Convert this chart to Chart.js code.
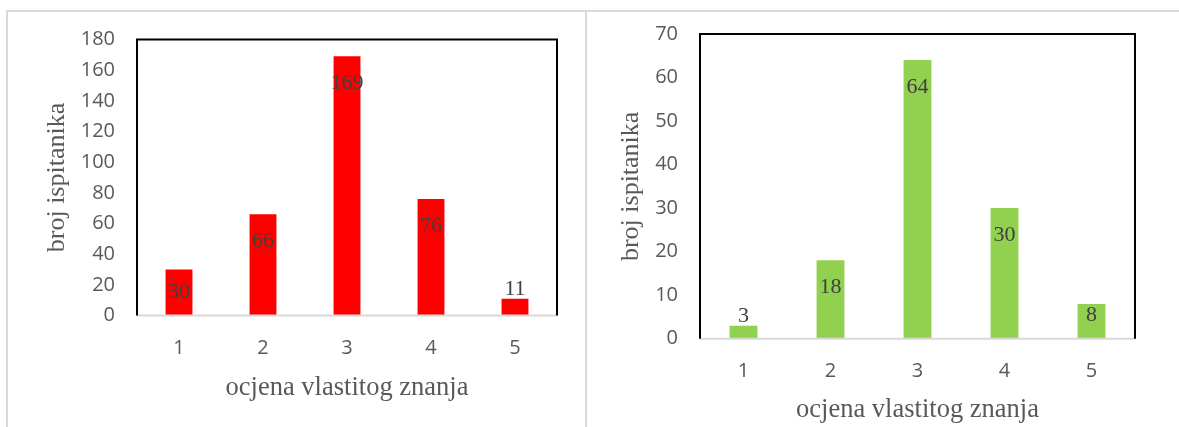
<!DOCTYPE html>
<html>
<head>
<meta charset="utf-8">
<script src="https://cdn.jsdelivr.net/npm/chart.js@4/dist/chart.umd.min.js"></script>
<style>
  html, body { margin: 0; padding: 0; background: #ffffff; }
  body { width: 1179px; height: 427px; position: relative; overflow: hidden; }
  canvas { position: absolute; top: 0; }
  .ln { position: absolute; background: #d9d9d9; }
</style>
</head>
<body>
<div class="ln" style="left:6px; top:10px; width:1173px; height:2px;"></div>
<div class="ln" style="left:6px; top:10px; width:2px; height:417px;"></div>
<div class="ln" style="left:585px; top:10px; width:2px; height:417px;"></div>
<canvas id="c1" width="585" height="427" style="left:0px;"></canvas>
<canvas id="c2" width="592" height="427" style="left:587px;"></canvas>
<script>
// ---- data ----
const categories = ['1', '2', '3', '4', '5'];
const leftValues = [30, 66, 169, 76, 11];
const rightValues = [3, 18, 64, 30, 8];
const leftMax = 180, leftStep = 20;
const rightMax = 70, rightStep = 10;
const xTitle = 'ocjena vlastitog znanja';
const yTitle = 'broj ispitanika';

const tickFont = { family: "'Open Sans', 'Liberation Sans', sans-serif", size: 20 };
const serifFamily = "'Liberation Serif', 'DejaVu Serif', serif";

const frame = {
  id: 'frame',
  afterDatasetsDraw(chart) {
    const a = chart.chartArea, ctx = chart.ctx;
    ctx.save();
    ctx.lineWidth = 2;
    ctx.strokeStyle = '#d9d9d9';
    ctx.beginPath();
    ctx.moveTo(a.left, a.bottom);
    ctx.lineTo(a.right, a.bottom);
    ctx.stroke();
    ctx.strokeStyle = '#000000';
    ctx.beginPath();
    ctx.moveTo(a.left, a.bottom);
    ctx.lineTo(a.left, a.top);
    ctx.lineTo(a.right, a.top);
    ctx.lineTo(a.right, a.bottom);
    ctx.stroke();
    ctx.restore();
  }
};

const labels = {
  id: 'valueLabels',
  afterDraw(chart) {
    const ctx = chart.ctx;
    const meta = chart.getDatasetMeta(0);
    const data = chart.data.datasets[0].data;
    ctx.save();
    ctx.font = '22px ' + serifFamily;
    ctx.fillStyle = '#404040';
    ctx.textAlign = 'center';
    ctx.textBaseline = 'middle';
    meta.data.forEach((bar, i) => {
      const top = bar.y, base = bar.base;
      const h = base - top;
      let y;
      if (h < 25) y = top - 9;
      else y = Math.min(top + 27, base - 23);
      ctx.fillText(String(data[i]), bar.x, y);
    });
    ctx.restore();
  }
};

function makeChart(id, values, color, maxV, step, geo) {
  return new Chart(document.getElementById(id), {
    type: 'bar',
    data: {
      labels: categories,
      datasets: [{
        data: values,
        backgroundColor: color,
        borderWidth: 0,
        categoryPercentage: 1,
        barPercentage: 0.32
      }]
    },
    options: {
      responsive: false,
      animation: false,
      layout: { padding: { left: 0, top: geo.top, right: geo.right, bottom: 0 } },
      plugins: { legend: { display: false }, tooltip: { enabled: false } },
      scales: {
        x: {
          grid: { display: false, drawTicks: false },
          border: { display: false },
          ticks: { color: '#595959', font: tickFont, padding: geo.xTickPad },
          title: {
            display: true, text: xTitle, color: '#595959',
            font: { family: serifFamily, size: 26.5 },
            padding: { top: 0, bottom: geo.xTitlePad }
          },
          afterFit(s) { s.height = geo.xHeight; }
        },
        y: {
          min: 0, max: maxV,
          grid: { display: false, drawTicks: false },
          border: { display: false },
          ticks: { stepSize: step, color: '#595959', font: tickFont, padding: 22 },
          title: {
            display: true, text: yTitle, color: '#595959',
            font: { family: serifFamily, size: 26 },
            padding: { top: geo.yTitlePad, bottom: 0 }
          },
          afterFit(s) { s.width = geo.yWidth; }
        }
      }
    },
    plugins: [frame, labels]
  });
}

makeChart('c1', leftValues, '#ff0000', leftMax, leftStep, {
  top: 39.5, right: 28, yWidth: 137, xHeight: 427 - 315.5,
  xTickPad: 21, xTitlePad: 23, yTitlePad: 41.5
});
makeChart('c2', rightValues, '#92d050', rightMax, rightStep, {
  top: 24.7, right: 44, yWidth: 113, xHeight: 427 - 338.7,
  xTickPad: 21, xTitlePad: 1.5, yTitlePad: 28.5
});
</script>
</body>
</html>
